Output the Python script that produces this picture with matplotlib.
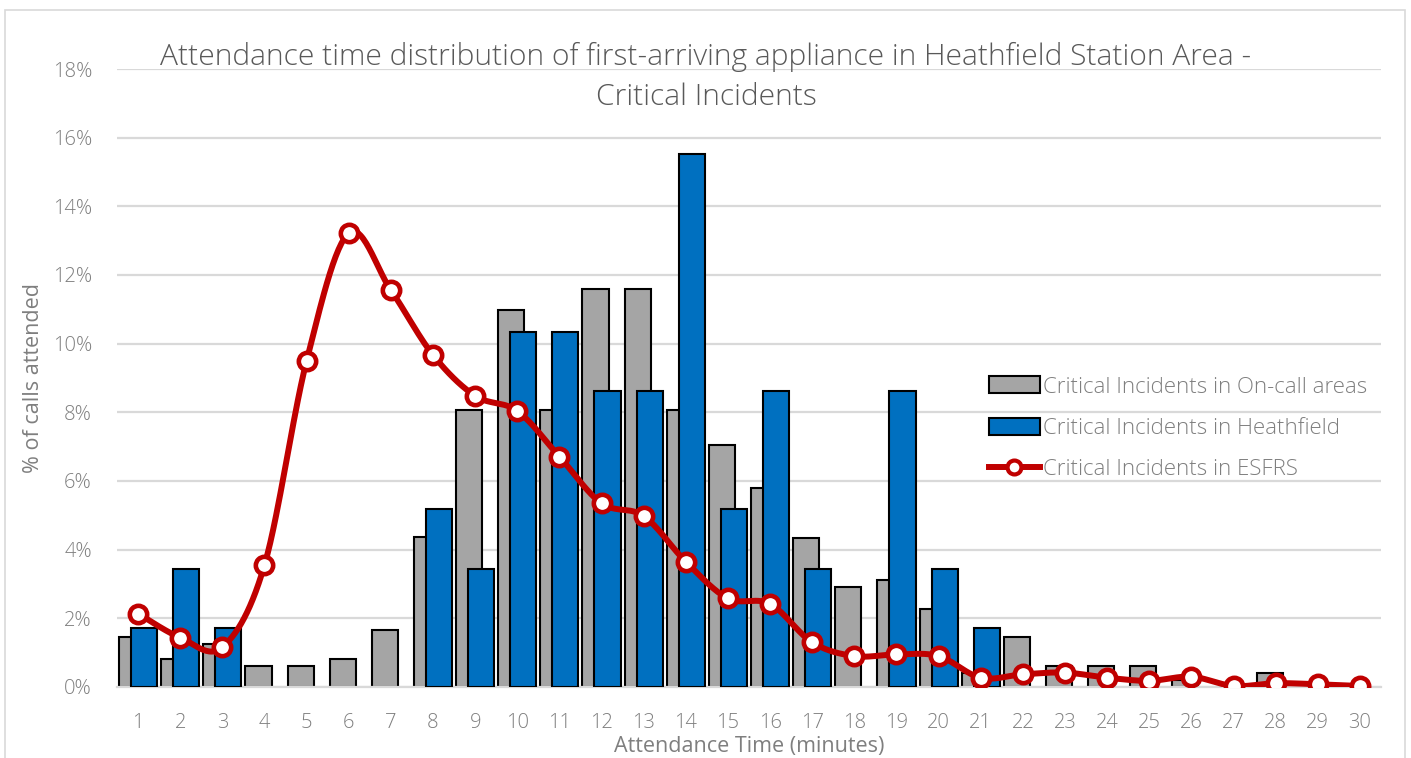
import numpy as np
import matplotlib.pyplot as plt
from matplotlib.patches import Rectangle
from matplotlib.lines import Line2D
from matplotlib.patches import Patch

plt.rcParams['font.family'] = ['Open Sans', 'DejaVu Sans']
plt.rcParams['font.weight'] = 'light'

# minutes 1..30
minutos = np.arange(1, 31)

# % of critical incidents attended in on-call areas
oncall = [1.46, 0.83, 1.25, 0.62, 0.62, 0.83, 1.66, 4.36, 8.08, 10.97,
          8.08, 11.59, 11.59, 8.08, 7.04, 5.80, 4.35, 2.90, 3.11, 2.28,
          0.41, 1.45, 0.62, 0.62, 0.62, 0.21, 0.0, 0.41, 0.0, 0.0]

# % of critical incidents attended in Heathfield
heathfield = [1.72, 3.45, 1.72, 0, 0, 0, 0, 5.17, 3.45, 10.34,
              10.34, 8.62, 8.62, 15.52, 5.17, 8.62, 3.45, 0, 8.62, 3.45,
              1.72, 0, 0, 0, 0, 0, 0, 0, 0, 0]

# % of critical incidents attended in ESFRS
esfrs = [2.14, 1.44, 1.16, 3.55, 9.50, 13.22, 11.56, 9.67, 8.48, 8.04,
         6.71, 5.35, 4.98, 3.65, 2.58, 2.42, 1.30, 0.90, 0.95, 0.90,
         0.27, 0.37, 0.42, 0.27, 0.18, 0.30, 0.03, 0.11, 0.08, 0.03]

etiquetas = ['Critical Incidents in On-call areas',
             'Critical Incidents in Heathfield',
             'Critical Incidents in ESFRS']

gris = '#a5a5a5'
azul = '#0070c0'
rojo = '#c00000'
texto = '#595959'
texto_claro = '#7f7f7f'

fig = plt.figure(figsize=(14.11, 7.58), dpi=100)
ax = fig.add_axes([117/1411, 1 - 687/758, (1381 - 117)/1411, (687 - 69)/758])

# marco del grafico
fig.patches.append(Rectangle((5/1411, -0.02), 1400/1411, 1 - 10/758 + 0.02,
                             transform=fig.transFigure, fill=False,
                             edgecolor='#d9d9d9', linewidth=1.2))

ancho = 0.62
desplazamiento = 0.143

oc = np.array(oncall)
hf = np.array(heathfield)
m1 = oc > 0
m2 = hf > 0
ax.bar(minutos[m1] - desplazamiento, oc[m1], ancho, color=gris,
       edgecolor='black', linewidth=1.5, zorder=2)
ax.bar(minutos[m2] + desplazamiento, hf[m2], ancho, color=azul,
       edgecolor='black', linewidth=1.5, zorder=3)

# linea suavizada como en Excel (Catmull-Rom -> Bezier)
x = minutos.astype(float)
y = np.array(esfrs)
n = len(x)
xs, ys = [], []
t = np.linspace(0, 1, 30)
for i in range(n - 1):
    p0 = np.array([x[max(i - 1, 0)], y[max(i - 1, 0)]])
    p1 = np.array([x[i], y[i]])
    p2 = np.array([x[i + 1], y[i + 1]])
    p3 = np.array([x[min(i + 2, n - 1)], y[min(i + 2, n - 1)]])
    c1 = p1 + (p2 - p0) / 6
    c2 = p2 - (p3 - p1) / 6
    b = ((1 - t)**3)[:, None] * p1 + (3 * (1 - t)**2 * t)[:, None] * c1 + \
        (3 * (1 - t) * t**2)[:, None] * c2 + (t**3)[:, None] * p2
    xs.extend(b[:, 0])
    ys.extend(b[:, 1])
ax.plot(xs, ys, color=rojo, linewidth=4.3, zorder=4, solid_capstyle='round')
ax.plot(x, y, linestyle='none', marker='o', markersize=12.5,
        markerfacecolor='white', markeredgecolor=rojo, markeredgewidth=3.3,
        zorder=5)

ax.set_xlim(0.5, 30.5)
ax.set_ylim(0, 18)
ax.set_yticks(np.arange(0, 19, 2))
ax.set_yticklabels([f'{v}%' for v in range(0, 19, 2)])
ax.set_xticks(minutos)
ax.set_xticklabels([str(m) for m in minutos])
ax.tick_params(axis='both', length=0, labelsize=14.5, labelcolor=texto_claro)
ax.tick_params(axis='x', pad=19)
ax.tick_params(axis='y', pad=18)

ax.grid(axis='y', color='#d9d9d9', linewidth=1.6, zorder=0)
ax.set_axisbelow(True)
for lado in ['top', 'right', 'left']:
    ax.spines[lado].set_visible(False)
ax.spines['bottom'].set_color('#d9d9d9')
ax.spines['bottom'].set_linewidth(1.6)

ax.set_ylabel('% of calls attended', fontsize=15.5, color=texto_claro, labelpad=6)
ax.set_xlabel('Attendance Time (minutes)', fontsize=15.5, color=texto_claro, labelpad=2)

fig.text(706/1411, 1 - 77/758,
         'Attendance time distribution of first-arriving appliance in Heathfield Station Area -\nCritical Incidents',
         ha='center', va='center', fontsize=21.6, color=texto, linespacing=1.5)

handles = [Patch(facecolor=gris, edgecolor='black', linewidth=1.5),
           Patch(facecolor=azul, edgecolor='black', linewidth=1.5),
           Line2D([0], [0], color=rojo, linewidth=4.3, marker='o', markersize=10,
                  markerfacecolor='white', markeredgecolor=rojo, markeredgewidth=3)]
ax.legend(handles, etiquetas, loc='upper left', bbox_to_anchor=(0.674, 0.535),
          frameon=False, fontsize=16, labelcolor=texto_claro, handlelength=2.3,
          handleheight=0.8, handletextpad=0.15, labelspacing=0.9)

fig.savefig('out.png', dpi=100)
